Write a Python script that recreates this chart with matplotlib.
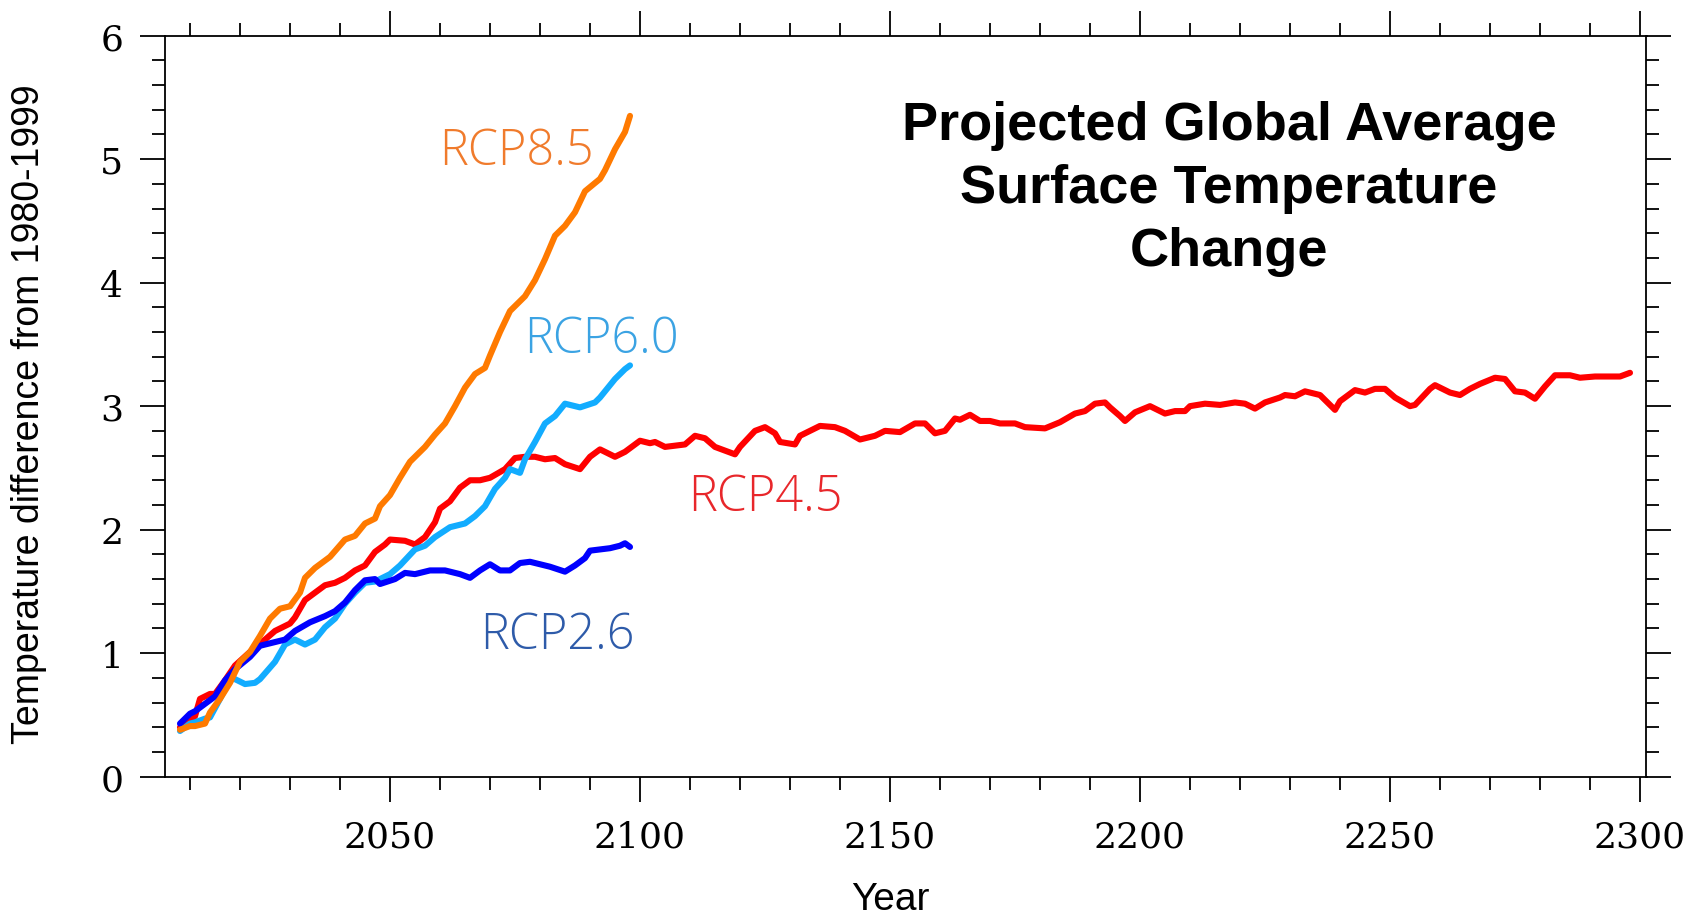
import matplotlib

matplotlib.use("Agg")
import matplotlib.pyplot as plt
from matplotlib.ticker import MultipleLocator

# ---- data (year, deg C above 1980-1999) ----
rcp26_years = [2008, 2010, 2011, 2012, 2015, 2017, 2019, 2022, 2024, 2026, 2029, 2031,
               2034, 2037, 2039, 2041, 2043, 2045, 2047, 2048, 2051, 2053, 2055, 2058,
               2061, 2064, 2066, 2068, 2070, 2072, 2074, 2076, 2078, 2080, 2082, 2085,
               2087, 2089, 2090, 2092, 2094, 2096, 2097, 2098]
rcp26_temp = [0.43, 0.51, 0.53, 0.56, 0.65, 0.78, 0.87, 0.97, 1.06, 1.08, 1.11, 1.18,
              1.25, 1.30, 1.34, 1.41, 1.51, 1.59, 1.60, 1.56, 1.60, 1.65, 1.64, 1.67,
              1.67, 1.64, 1.61, 1.67, 1.72, 1.67, 1.67, 1.73, 1.74, 1.72, 1.70, 1.66,
              1.71, 1.77, 1.83, 1.84, 1.85, 1.87, 1.89, 1.86]

rcp60_years = [2008, 2010, 2011, 2013, 2014, 2016, 2018, 2019, 2021, 2023, 2024, 2027,
               2029, 2031, 2033, 2035, 2037, 2039, 2041, 2043, 2045, 2047, 2050, 2052,
               2055, 2057, 2059, 2062, 2065, 2067, 2069, 2071, 2073, 2074, 2076, 2077,
               2079, 2081, 2083, 2085, 2088, 2091, 2092, 2094, 2095, 2097, 2098]
rcp60_temp = [0.37, 0.43, 0.44, 0.47, 0.48, 0.63, 0.79, 0.79, 0.75, 0.76, 0.79, 0.93,
              1.07, 1.11, 1.07, 1.11, 1.21, 1.28, 1.40, 1.49, 1.57, 1.58, 1.64, 1.71,
              1.84, 1.87, 1.94, 2.02, 2.05, 2.11, 2.19, 2.33, 2.42, 2.49, 2.46, 2.57,
              2.71, 2.86, 2.92, 3.02, 2.99, 3.03, 3.07, 3.17, 3.22, 3.30, 3.33]

rcp45_years = [2008, 2011, 2012, 2014, 2015, 2017, 2019, 2022, 2025, 2027, 2029, 2030,
               2031, 2033, 2035, 2037, 2039, 2041, 2043, 2045, 2047, 2049, 2050, 2053,
               2055, 2057, 2059, 2060, 2062, 2064, 2066, 2068, 2070, 2073, 2075, 2077,
               2079, 2081, 2083, 2085, 2088, 2090, 2092, 2095, 2097, 2100, 2102, 2103,
               2105, 2109, 2111, 2113, 2115, 2119, 2120, 2123, 2125, 2127, 2128, 2131,
               2132, 2136, 2139, 2141, 2144, 2147, 2149, 2152, 2155, 2157, 2159, 2161,
               2163, 2164, 2166, 2168, 2170, 2172, 2175, 2177, 2181, 2184, 2187, 2189,
               2191, 2193, 2194, 2196, 2197, 2199, 2202, 2205, 2207, 2209, 2210, 2213,
               2216, 2219, 2221, 2223, 2225, 2228, 2229, 2231, 2233, 2236, 2239, 2240,
               2243, 2245, 2247, 2249, 2251, 2254, 2255, 2258, 2259, 2262, 2264, 2266,
               2268, 2271, 2273, 2275, 2277, 2279, 2281, 2283, 2286, 2288, 2291, 2293,
               2296, 2298]
rcp45_temp = [0.40, 0.49, 0.63, 0.67, 0.67, 0.78, 0.90, 1.01, 1.11, 1.18, 1.22, 1.24,
              1.29, 1.43, 1.49, 1.55, 1.57, 1.61, 1.67, 1.71, 1.82, 1.88, 1.92, 1.91,
              1.88, 1.94, 2.06, 2.17, 2.23, 2.34, 2.40, 2.40, 2.42, 2.49, 2.58, 2.59,
              2.59, 2.57, 2.58, 2.53, 2.49, 2.59, 2.65, 2.59, 2.63, 2.72, 2.70, 2.71,
              2.67, 2.69, 2.76, 2.74, 2.67, 2.61, 2.67, 2.80, 2.83, 2.78, 2.71, 2.69,
              2.76, 2.84, 2.83, 2.80, 2.73, 2.76, 2.80, 2.79, 2.86, 2.86, 2.78, 2.80,
              2.90, 2.89, 2.93, 2.88, 2.88, 2.86, 2.86, 2.83, 2.82, 2.87, 2.94, 2.96,
              3.02, 3.03, 2.99, 2.92, 2.88, 2.95, 3.00, 2.94, 2.96, 2.96, 3.00, 3.02,
              3.01, 3.03, 3.02, 2.98, 3.03, 3.07, 3.09, 3.08, 3.12, 3.09, 2.97, 3.04,
              3.13, 3.11, 3.14, 3.14, 3.07, 3.00, 3.01, 3.14, 3.17, 3.11, 3.09, 3.14,
              3.18, 3.23, 3.22, 3.12, 3.11, 3.06, 3.16, 3.25, 3.25, 3.23, 3.24, 3.24,
              3.24, 3.27]

rcp85_years = [2008, 2010, 2011, 2013, 2014, 2016, 2018, 2020, 2022, 2024, 2026, 2028,
               2030, 2032, 2033, 2035, 2037, 2038, 2041, 2043, 2045, 2047, 2048, 2050,
               2052, 2054, 2057, 2059, 2061, 2063, 2065, 2067, 2069, 2070, 2072, 2074,
               2077, 2079, 2081, 2083, 2085, 2087, 2089, 2092, 2093, 2095, 2097, 2098]
rcp85_temp = [0.38, 0.41, 0.41, 0.43, 0.52, 0.63, 0.76, 0.93, 1.01, 1.14, 1.28, 1.36,
              1.38, 1.49, 1.61, 1.69, 1.75, 1.78, 1.92, 1.95, 2.05, 2.09, 2.19, 2.28,
              2.42, 2.55, 2.67, 2.77, 2.86, 3.00, 3.15, 3.26, 3.31, 3.41, 3.60, 3.77,
              3.89, 4.02, 4.19, 4.38, 4.46, 4.57, 4.74, 4.84, 4.91, 5.08, 5.22, 5.35]

# label text, anchor (year, deg C) and colours
scenario_names = ["RCP2.6", "RCP4.5", "RCP6.0", "RCP8.5"]
label_pos = {"RCP8.5": (2075.2, 4.96), "RCP6.0": (2092.2, 3.44),
             "RCP4.5": (2125.0, 2.16), "RCP2.6": (2083.4, 1.04)}
line_color = {"RCP8.5": "#ff7a00", "RCP6.0": "#12acff",
              "RCP4.5": "#ff0000", "RCP2.6": "#0000ff"}
text_color = {"RCP8.5": "#f07b2c", "RCP6.0": "#3ba3e3",
              "RCP4.5": "#e8272b", "RCP2.6": "#2e5ba9"}
zorders = {"RCP4.5": 2, "RCP6.0": 3, "RCP2.6": 4, "RCP8.5": 5}

series = {"RCP2.6": (rcp26_years, rcp26_temp), "RCP6.0": (rcp60_years, rcp60_temp),
          "RCP4.5": (rcp45_years, rcp45_temp), "RCP8.5": (rcp85_years, rcp85_temp)}

plt.rcParams["font.family"] = ["DejaVu Serif"]
LABEL_FONT = ["Open Sans", "DejaVu Sans"]
SANS = ["Liberation Sans", "DejaVu Sans"]

W, H = 1690, 920
fig = plt.figure(figsize=(W / 100, H / 100), dpi=100)
ax = fig.add_axes([165 / W, 1 - 777.7 / H, (1646.5 - 165) / W, (777.7 - 36.6) / H])

for name in scenario_names:
    yrs, tmp = series[name]
    ax.plot(yrs, tmp, color=line_color[name], lw=4.4, solid_capstyle="round",
            solid_joinstyle="round", zorder=zorders[name])
    lx, ly = label_pos[name]
    ax.text(lx, ly, name, color=text_color[name], fontsize=35, ha="center",
            va="baseline", family=LABEL_FONT, fontweight="light", zorder=6)

ax.set_xlim(2005, 2301.3)
ax.set_ylim(0, 6)
ax.set_xticks(range(2050, 2301, 50))
ax.xaxis.set_minor_locator(MultipleLocator(10))
ax.yaxis.set_major_locator(MultipleLocator(1))
ax.yaxis.set_minor_locator(MultipleLocator(0.2))
ax.tick_params(which="both", direction="out", top=True, right=True,
               labeltop=False, labelright=False, width=1.3, color="black")
ax.tick_params(which="major", length=18, labelsize=26)
ax.tick_params(which="minor", length=9.5)
ax.tick_params(axis="y", pad=12)
ax.tick_params(axis="x", pad=13)
for s in ax.spines.values():
    s.set_linewidth(1.3)

fig.text(29 / W, 1 - 414 / H, "Temperature difference from 1980-1999", rotation=90,
         ha="center", va="center", fontsize=27, family=SANS)
fig.text(890 / W, 1 - 910 / H, "Year", ha="center", va="baseline", fontsize=28,
         family=SANS)

# last line's baseline is the anchor for a multi-line baseline text
fig.text(1229 / W, 1 - 266 / H, "Projected Global Average\nSurface Temperature\nChange",
         ha="center", va="baseline", fontsize=39, fontweight="bold", family=SANS,
         linespacing=1.33)

fig.savefig("out.png", dpi=100)
